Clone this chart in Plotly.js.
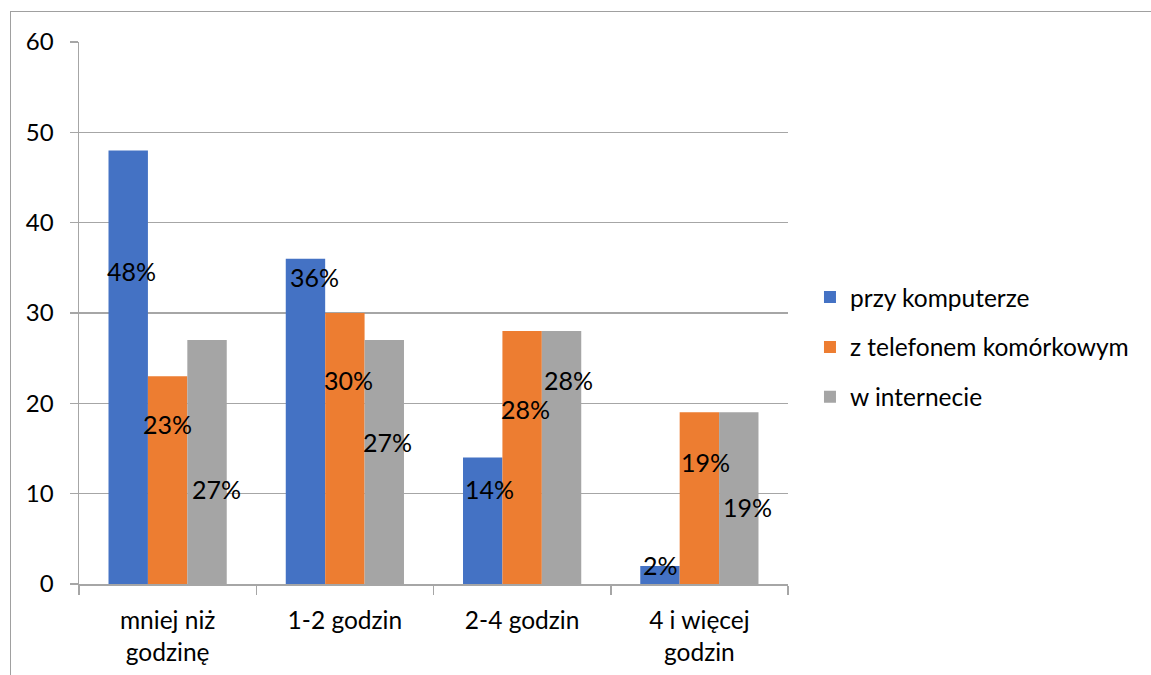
<!DOCTYPE html>
<html>
<head>
<meta charset="utf-8">
<script src="https://cdn.plot.ly/plotly-3.0.1.min.js"></script>
<style>
  html, body { margin: 0; padding: 0; background: #fff; }
  #wrap { position: relative; width: 1151px; height: 675px; overflow: hidden; }
  #chart { position: absolute; left: 0; top: 0; width: 1151px; height: 675px; }
  #frame { position: absolute; left: 10px; top: 11px; width: 1200px; height: 700px;
           border-left: 1px solid #a0a0a0; border-top: 1px solid #a0a0a0; pointer-events: none; }
</style>
</head>
<body>
<div id="wrap">
  <div id="chart"></div>
  <div id="frame"></div>
</div>
<script>
// ---- data ----
const categories = ["mniej niż<br>godzinę", "1-2 godzin", "2-4 godzin", "4 i więcej<br>godzin"];
const seriesNames = ["przy komputerze", "z telefonem komórkowym", "w internecie"];
const computer = [48, 36, 14, 2];
const phone = [23, 30, 28, 19];
const internet = [27, 27, 28, 19];
const percentLabels = [
  ["48%", "36%", "14%", "2%"],
  ["23%", "30%", "28%", "19%"],
  ["27%", "27%", "28%", "19%"]
];

// ---- label placement (manual placement in the original, in axis units) ----
const labelHeights = [
  [34.7, 34.0, 10.5, 2.1],
  [17.7, 22.6, 19.4, 13.5],
  [10.5, 15.7, 22.6, 8.5]
];
const labelNudge = [
  [3, 9, 7, 1],
  [0, 4, 3, 6],
  [9, 3, 7, 9]
];

const colors = ["#4472C4", "#ED7D31", "#A5A5A5"];
const values = [computer, phone, internet];
const FONT = "Lato, 'Open Sans', sans-serif";

const W = 1151, H = 675;
const margin = {l: 79, r: 363, t: 42, b: 91};
const plotW = W - margin.l - margin.r;
const bargap = 0.333;
const barPx = plotW / categories.length * (1 - bargap) / 3;

const traces = values.map((v, i) => ({
  type: "bar",
  name: seriesNames[i],
  x: categories,
  y: v,
  marker: {color: colors[i], line: {width: 0}},
  legendgroup: "g" + i,
  hoverinfo: "skip"
}));

const annotations = [];
for (let s = 0; s < 3; s++) {
  for (let c = 0; c < categories.length; c++) {
    annotations.push({
      x: categories[c], y: labelHeights[s][c], xref: "x", yref: "y",
      text: percentLabels[s][c], showarrow: false,
      xshift: (s - 1) * barPx + labelNudge[s][c],
      font: {family: FONT, size: 25, color: "#000"}
    });
  }
}

const layout = {
  width: W, height: H,
  margin: margin,
  paper_bgcolor: "#fff", plot_bgcolor: "#fff",
  barmode: "group", bargap: bargap, bargroupgap: 0,
  font: {family: FONT, size: 24, color: "#000"},
  showlegend: true,
  legend: {
    x: 1.031, xanchor: "left", y: 0.437, yanchor: "middle",
    traceorder: "grouped", tracegroupgap: 15,
    font: {family: FONT, size: 24.5, color: "#000"},
    bgcolor: "rgba(0,0,0,0)"
  },
  xaxis: {
    type: "category",
    showgrid: false, zeroline: false,
    showline: true, linecolor: "#a6a6a6", linewidth: 1.5,
    ticks: "outside", tickson: "boundaries", ticklen: 9, tickcolor: "#a6a6a6", tickwidth: 1.5,
    tickfont: {family: FONT, size: 24.5, color: "#000"},
    ticklabelstandoff: 14,
    fixedrange: true
  },
  yaxis: {
    range: [0, 60], dtick: 10, tick0: 0,
    showgrid: true, gridcolor: "#a6a6a6", gridwidth: 1.5,
    zeroline: false,
    showline: true, linecolor: "#a6a6a6", linewidth: 1.5,
    ticks: "outside", ticklen: 8, tickcolor: "#a6a6a6", tickwidth: 1.5,
    tickfont: {family: FONT, size: 24, color: "#000"},
    ticklabelstandoff: 11,
    fixedrange: true
  },
  annotations: annotations
};

Plotly.newPlot("chart", traces, layout, {displayModeBar: false, staticPlot: true});
</script>
</body>
</html>
